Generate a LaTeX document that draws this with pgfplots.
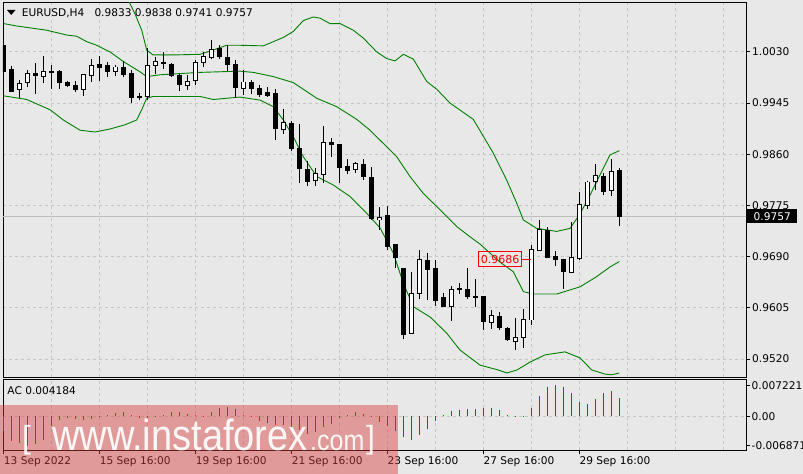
\documentclass[border=0pt]{standalone}
\usepackage{fontspec}
\setmainfont{DejaVu Sans}
\newfontfamily\wmfont{Liberation Sans}
\usepackage{graphicx}
\usepackage{pgfplots}
\usepackage{pgfplotstable}
\pgfplotsset{compat=1.18}
\definecolor{bg}{RGB}{232,232,232}
\definecolor{bb}{RGB}{0,128,0}
\definecolor{gridc}{RGB}{198,198,198}
\definecolor{bidc}{RGB}{190,190,190}
\definecolor{wmred}{RGB}{215,60,60}

\pgfplotstableread{
i o h l c
0 1.0040 1.0045 0.9987 0.9997
1 1.0000 1.0007 0.9963 0.9965
4 0.9994 1.0011 0.9960 0.9991
6 0.9998 1.0009 0.9968 0.9996
7 0.9998 1.0000 0.9968 0.9980
8 0.9979 0.9982 0.9971 0.9975
9 0.9975 0.9982 0.9963 0.9967
12 1.0009 1.0024 0.9981 1.0004
13 1.0007 1.0014 0.9989 0.9997
15 1.0004 1.0015 0.9989 0.9993
16 0.9994 1.0000 0.9945 0.9954
17 0.9956 0.9962 0.9951 0.9954
20 1.0012 1.0030 1.0001 1.0011
21 1.0009 1.0011 0.9989 0.9991
22 0.9991 0.9993 0.9966 0.9976
27 1.0035 1.0041 1.0019 1.0022
28 1.0021 1.0041 0.9999 1.0009
29 1.0010 1.0017 0.9954 0.9971
31 0.9980 0.9983 0.9960 0.9969
32 0.9970 0.9975 0.9956 0.9960
33 0.9963 0.9971 0.9955 0.9958
34 0.9961 0.9968 0.9884 0.9902
36 0.9911 0.9916 0.9866 0.9869
37 0.9870 0.9910 0.9813 0.9836
38 0.9835 0.9849 0.9807 0.9815
41 0.9880 0.9887 0.9855 0.9876
42 0.9876 0.9877 0.9812 0.9838
43 0.9839 0.9852 0.9828 0.9833
45 0.9844 0.9852 0.9817 0.9823
46 0.9822 0.9839 0.9751 0.9753
48 0.9758 0.9774 0.9701 0.9707
49 0.9710 0.9711 0.9671 0.9689
50 0.9671 0.9672 0.9553 0.9560
53 0.9684 0.9697 0.9618 0.9668
54 0.9670 0.9685 0.9608 0.9618
55 0.9623 0.9629 0.9606 0.9607
57 0.9637 0.9647 0.9628 0.9635
58 0.9636 0.9671 0.9620 0.9624
59 0.9624 0.9653 0.9606 0.9622
60 0.9624 0.9625 0.9568 0.9582
62 0.9590 0.9598 0.9568 0.9572
63 0.9571 0.9574 0.9550 0.9552
68 0.9734 0.9739 0.9689 0.9689
69 0.9691 0.9699 0.9675 0.9686
70 0.9686 0.9687 0.9636 0.9666
75 0.9824 0.9829 0.9793 0.9798
77 0.9833 0.9838 0.9741 0.9757
}\bear

\pgfplotstableread{
i o h l c
2 0.9968 0.9983 0.9954 0.9978
3 0.9980 1.0000 0.9971 0.9994
5 0.9989 1.0023 0.9979 0.9998
10 0.9967 0.9994 0.9956 0.9993
11 0.9991 1.0018 0.9980 1.0007
14 0.9997 1.0009 0.9990 1.0005
18 0.9956 1.0037 0.9950 1.0007
19 1.0007 1.0022 0.9993 1.0014
23 0.9974 0.9992 0.9966 0.9981
24 0.9983 1.0017 0.9975 1.0013
25 1.0013 1.0030 1.0005 1.0023
26 1.0021 1.0050 1.0019 1.0034
30 0.9970 1.0000 0.9958 0.9980
35 0.9902 0.9936 0.9894 0.9913
39 0.9817 0.9837 0.9807 0.9828
40 0.9827 0.9907 0.9812 0.9880
44 0.9835 0.9848 0.9829 0.9844
47 0.9752 0.9773 0.9734 0.9755
51 0.9563 0.9664 0.9562 0.9629
52 0.9629 0.9701 0.9620 0.9686
56 0.9607 0.9641 0.9584 0.9635
61 0.9581 0.9601 0.9570 0.9592
64 0.9550 0.9588 0.9536 0.9556
65 0.9556 0.9603 0.9538 0.9586
66 0.9585 0.9709 0.9576 0.9702
67 0.9701 0.9751 0.9700 0.9735
71 0.9664 0.9748 0.9663 0.9689
72 0.9687 0.9798 0.9684 0.9777
73 0.9775 0.9815 0.9769 0.9814
74 0.9815 0.9844 0.9801 0.9825
76 0.9800 0.9853 0.9790 0.9832
}\bull

\begin{document}
\begin{tikzpicture}[font=\fontsize{10.6bp}{12bp}\selectfont]
\useasboundingbox (0bp,0bp) rectangle (803bp,474bp);
\clip (0bp,0bp) rectangle (803bp,474bp);
\fill[bg] (0bp,0bp) rectangle (803bp,474bp);

\begin{axis}[
  at={(3bp,96.7bp)}, anchor=south west, scale only axis,
  width=743bp, height=374.6bp,
  xmin=-0.091, xmax=92.84, ymin=0.948979, ymax=1.011168,
  axis line style={line width=0.8bp},
  xtick={0,6,...,90}, xticklabels={}, xmajorgrids,
  ytick={0.9520,0.9605,0.9690,0.9775,0.9860,0.9945,1.0030},
  yticklabels={0.9520,0.9605,0.9690,0.9775,0.9860,0.9945,1.0030},
  ymajorgrids,
  grid style={gridc, dash pattern=on 3bp off 3bp, line width=0.8bp},
  scaled y ticks=false, scaled x ticks=false,
  ytick pos=right, yticklabel pos=right, tick align=outside,
  major tick length=4bp,
  xtick style={draw=none}, ytick style={black, line width=0.8bp},
  tick label style={font=\fontsize{10.6bp}{12bp}\selectfont},
  yticklabel style={anchor=west, inner sep=0pt, xshift=2bp},
  clip mode=individual,
]
\addplot[bidc, line width=1bp] coordinates {(-1,0.9757) (93,0.9757)};

\addplot[bb, line width=0.9bp] coordinates {
(14.54,1.0200) (15.58,1.0116) (16.42,1.0093) (17.26,1.0066) (17.88,1.0033) (18.67,1.0025) (21.42,1.0025) (24.55,1.0026) (26.18,1.0033) (27.89,1.0041) (29.55,1.0041) (32.47,1.0040) (33.72,1.0047) (34.97,1.0054) (36.22,1.0064) (37.47,1.0082) (38.72,1.0088) (39.56,1.0086) (40.81,1.0077) (42.06,1.0077) (43.72,1.0066) (44.97,1.0053) (46.65,1.0030) (47.90,1.0019) (48.94,1.0015) (49.98,1.0026) (51.23,1.0018) (52.90,0.9981) (54.16,0.9968) (55.82,0.9945) (58.73,0.9918) (61.23,0.9862) (62.91,0.9817) (64.16,0.9779) (64.99,0.9751) (66.66,0.9737) (69.16,0.9732) (70.83,0.9737) (72.08,0.9761) (73.33,0.9792) (74.58,0.9826) (75.83,0.9859) (77,0.9866)};
\addplot[bb, line width=0.9bp] coordinates {
(0,1.0077) (1.62,1.0073) (5.37,1.0066) (7.88,1.0058) (9.13,1.0056) (10.38,1.0047) (11.63,1.0041) (13.29,1.0030) (14.96,1.0014) (17.04,0.9997) (17.88,0.9989) (19.55,0.9992) (24.55,0.9996) (29.55,0.9998) (31.22,0.9996) (33.72,0.9989) (36.22,0.9979) (39.15,0.9953) (41.65,0.9939) (44.15,0.9918) (45.81,0.9900) (47.48,0.9878) (49.15,0.9856) (50.82,0.9823) (52.48,0.9795) (54.57,0.9768) (56.66,0.9740) (58.73,0.9719) (59.57,0.9711) (62.07,0.9681) (63.74,0.9665) (64.99,0.9632) (66.24,0.9628) (69.16,0.9628) (72.08,0.9640) (74.17,0.9657) (75.83,0.9673) (77,0.9682)};
\addplot[bb, line width=0.9bp] coordinates {
(0,0.9957) (2.87,0.9951) (5.79,0.9934) (7.45,0.9917) (9.54,0.9900) (11.42,0.9897) (13.29,0.9902) (15.17,0.9909) (16.63,0.9917) (17.26,0.9934) (17.88,0.9953) (18.71,0.9956) (24.55,0.9956) (26.21,0.9951) (29.55,0.9955) (32.05,0.9950) (33.72,0.9939) (34.97,0.9917) (36.22,0.9889) (37.47,0.9856) (39.15,0.9823) (41.22,0.9809) (43.31,0.9790) (45.40,0.9762) (47.06,0.9738) (48.73,0.9696) (49.98,0.9646) (51.23,0.9607) (53.32,0.9590) (55.41,0.9563) (57.07,0.9535) (59.57,0.9510) (61.82,0.9502) (62.94,0.9497) (64.20,0.9502) (65.82,0.9515) (67.70,0.9527) (70.20,0.9532) (72.08,0.9522) (73.54,0.9502) (75.21,0.9495) (76.04,0.9494) (77,0.9497)};

% wicks
\addplot[draw=none, mark=none, error bars/.cd, y dir=both, y explicit, error mark=none,
  error bar style={draw=black, line width=1bp}]
  table[x=i, y expr={(\thisrow{h}+\thisrow{l})/2}, y error expr={(\thisrow{h}-\thisrow{l})/2}] {\bear};
\addplot[draw=none, mark=none, error bars/.cd, y dir=both, y explicit, error mark=none,
  error bar style={draw=black, line width=1bp}]
  table[x=i, y expr={(\thisrow{h}+\thisrow{l})/2}, y error expr={(\thisrow{h}-\thisrow{l})/2}] {\bull};
% bodies
\addplot[draw=none, mark=none, error bars/.cd, y dir=both, y explicit, error mark=none,
  error bar style={draw=black, line width=5bp}]
  table[x=i, y expr={(\thisrow{o}+\thisrow{c})/2}, y error expr={(\thisrow{o}-\thisrow{c})/2+0.00008}] {\bear};
\addplot[draw=none, mark=none, error bars/.cd, y dir=both, y explicit, error mark=none,
  error bar style={draw=black, line width=5bp}]
  table[x=i, y expr={(\thisrow{o}+\thisrow{c})/2}, y error expr={(\thisrow{c}-\thisrow{o})/2+0.00008}] {\bull};
\addplot[draw=none, mark=none, error bars/.cd, y dir=both, y explicit, error mark=none,
  error bar style={draw=white, line width=3bp}]
  table[x=i, y expr={(\thisrow{o}+\thisrow{c})/2}, y error expr={(\thisrow{c}-\thisrow{o})/2-0.00008}] {\bull};

\draw[red, line width=0.8bp] (axis cs:64.79,0.9686) -- (axis cs:66,0.9686);
\node[draw=red, text=red, anchor=east, inner xsep=2bp, inner ysep=3.4bp, line width=0.8bp,
  font=\fontsize{11bp}{12bp}\selectfont] at (axis cs:64.79,0.9686) {0.9686};
\coordinate (cp) at (axis cs:92.84,0.9757);
\end{axis}

\begin{axis}[
  at={(3bp,23.7bp)}, anchor=south west, scale only axis,
  width=743bp, height=70.8bp,
  xmin=-0.091, xmax=92.84, ymin=-0.007919, ymax=0.008571,
  axis line style={line width=0.8bp},
  xtick={0,12,...,72},
  xticklabels={13 Sep 2022,15 Sep 16:00,19 Sep 16:00,21 Sep 16:00,23 Sep 16:00,27 Sep 16:00,29 Sep 16:00},
  minor xtick={6,18,30,42,54,66,78,84,90},
  xmajorgrids, xminorgrids,
  grid style={gridc, dash pattern=on 3bp off 3bp, line width=0.8bp},
  minor grid style={gridc, dash pattern=on 3bp off 3bp, line width=0.8bp},
  scaled y ticks=false, scaled x ticks=false,
  xtick pos=lower, ytick pos=right, yticklabel pos=right,
  tick align=outside, major tick length=3.5bp, minor tick length=0pt,
  tick style={black, line width=0.8bp},
  ytick={-0.006871,0.007221}, yticklabels={-0.006871,0.007221},
  extra y ticks={0}, extra y tick labels={0.00},
  extra y tick style={grid=major},
  tick label style={font=\fontsize{10.6bp}{12bp}\selectfont},
  xticklabel style={anchor=north west, inner sep=0pt, yshift=-3bp},
  yticklabel style={anchor=west, inner sep=0pt, xshift=2bp},
  clip mode=individual,
]
\addplot[ycomb, draw=bb, line width=1bp] coordinates {
(4,-0.00652) (5,-0.00559) (6,-0.00233) (7,-0.00077) (8,-0.00040) (11,-0.00054) (12,-0.00016) (13,0.00040) (14,0.00082) (15,0.00105) (19,-0.00023) (20,0.00040) (21,0.00105) (26,0.00105) (27,0.00193) (28,0.00217) (39,-0.00373) (40,-0.00256) (41,-0.00175) (42,-0.00035) (43,0.00035) (44,0.00098) (52,-0.00426) (53,-0.00286) (54,-0.00109) (55,0.00040) (56,0.00123) (57,0.00140) (58,0.00163) (59,0.00170) (60,0.00193) (65,0.00007) (66,0.00193) (67,0.00473) (68,0.00682) (69,0.007221) (74,0.00412) (75,0.00552) (76,0.00582)};
\addplot[ycomb, draw=red, line width=1bp] coordinates {
(0,-0.00333) (1,-0.00566) (2,-0.00629) (3,-0.006871) (9,-0.00054) (10,-0.00077) (16,0.00035) (17,-0.00040) (18,-0.00058) (22,0.00100) (23,0.00063) (24,0.00023) (25,-0.00007) (29,0.00175) (30,0.00040) (31,-0.00023) (32,-0.00105) (33,-0.00156) (34,-0.00193) (35,-0.00214) (36,-0.00256) (37,-0.00314) (38,-0.00408) (45,0.00047) (46,-0.00023) (47,-0.00128) (48,-0.00221) (49,-0.00349) (50,-0.00482) (51,-0.00559) (61,0.00189) (62,0.00140) (63,0.00040) (64,-0.00002) (70,0.00682) (71,0.00543) (72,0.00333) (73,0.00296) (77,0.004184)};
\end{axis}

\node[fill=black, text=white, anchor=west, inner sep=0pt, minimum width=50bp, minimum height=14bp] at ([xshift=1bp]cp) {0.9757};

\fill[black] (7bp,464bp) -- (15.5bp,464bp) -- (11.25bp,459bp) -- cycle;
\node[anchor=base west, inner sep=0pt] at (21.7bp,457.3bp) {EURUSD,H4};
\node[anchor=base west, inner sep=0pt] at (94.3bp,457.3bp) {0.9833 0.9838 0.9741 0.9757};
\node[anchor=base west, inner sep=0pt] at (7.3bp,79.3bp) {AC 0.004184};

\fill[wmred, fill opacity=0.45] (0bp,0bp) rectangle (398bp,69bp);
\node[anchor=base west, inner sep=0pt, text=white, text opacity=0.92, font=\wmfont\fontsize{32bp}{32bp}\selectfont] at (22bp,26bp) {[};
\node[anchor=base west, inner sep=0pt, text=white, text opacity=0.92, font=\wmfont\fontsize{38bp}{38bp}\selectfont] at (52bp,23.3bp) {\scalebox{1}[1.15]{www.instaforex}};
\node[anchor=base west, inner sep=0pt, text=white, text opacity=0.92, font=\wmfont\fontsize{25bp}{25bp}\selectfont] at (310bp,23.3bp) {\scalebox{1}[1.15]{.com}};
\node[anchor=base west, inner sep=0pt, text=white, text opacity=0.92, font=\wmfont\fontsize{32bp}{32bp}\selectfont] at (366bp,26bp) {]};
\end{tikzpicture}
\end{document}
